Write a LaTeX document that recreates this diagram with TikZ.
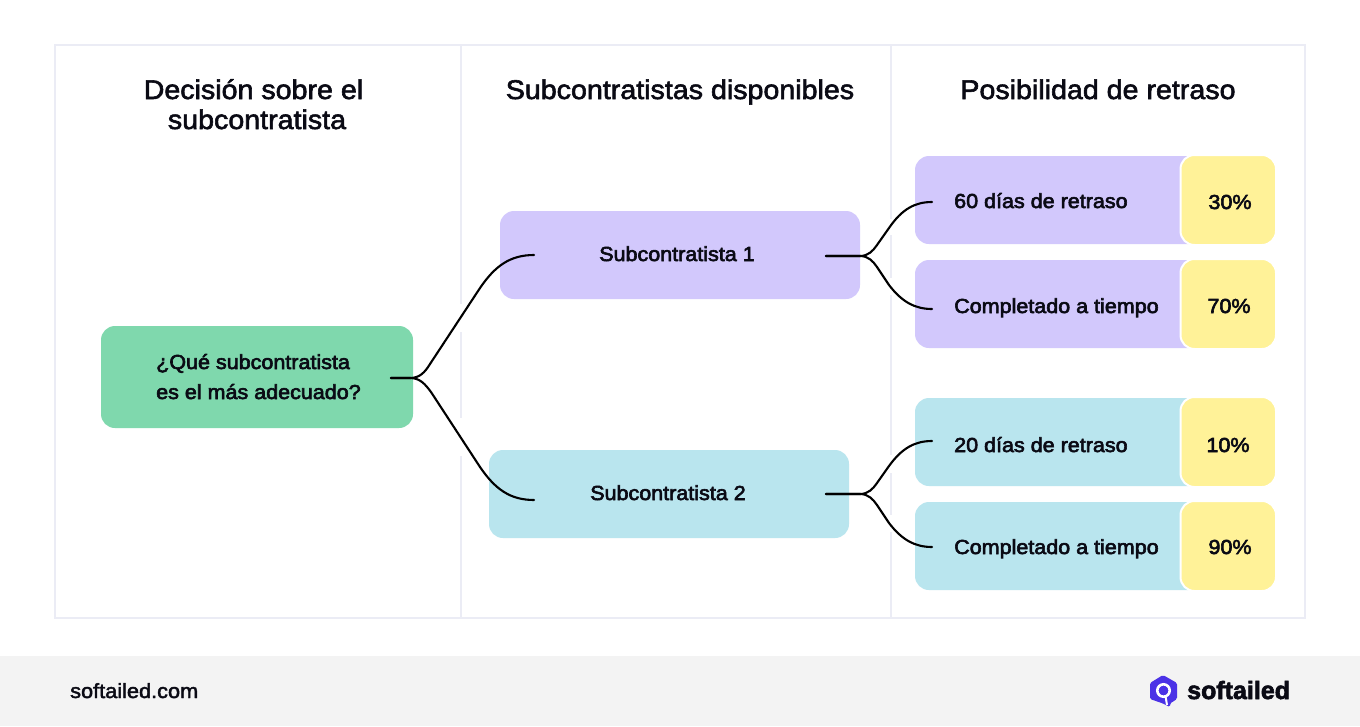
\documentclass[tikz,border=0pt]{standalone}
\usepackage{fontspec}
\setmainfont{Liberation Sans}[FakeBold=3,FakeStretch=1.06]
\newfontfamily\headfont{Liberation Sans}[FakeBold=2.2,FakeStretch=1.06]
\newfontfamily\footfont{Liberation Sans}[FakeBold=2.2,FakeStretch=1.06]
\newfontfamily\logofont{Liberation Sans Bold}[FakeBold=2.5]
\definecolor{gridline}{HTML}{EBECF5}
\definecolor{footbg}{HTML}{F3F3F3}
\definecolor{greenbox}{HTML}{7FD8AD}
\definecolor{purplebox}{HTML}{D2C8FC}
\definecolor{bluebox}{HTML}{B9E5EE}
\definecolor{yellowbox}{HTML}{FFF298}
\definecolor{logoblue}{HTML}{4B32E6}
\definecolor{ink}{HTML}{0A0A14}
\tikzset{
  box/.style={rounded corners=14pt},
  pct/.style={box,fill=yellowbox,draw=white,line width=2pt},
  head/.style={font=\headfont\fontsize{27}{30}\selectfont,align=center,text=ink,inner sep=0pt,anchor=base},
  label/.style={font=\fontsize{20.3}{24}\selectfont,text=ink,inner sep=0pt},
  link/.style={draw=black,line width=2.1pt,line cap=round},
  rule/.style={draw=gridline,line width=2pt},
}
\begin{document}
\begin{tikzpicture}[x=1pt,y=-1pt]
\useasboundingbox (0,0) rectangle (1360,726);
\fill[white] (0,0) rectangle (1360,726);
\fill[footbg] (0,656) rectangle (1360,726);
\draw[rule] (55,45) rectangle (1305,618);
\draw[rule] (461,45) -- (461,304) (461,332) -- (461,418) (461,456) -- (461,618);
\draw[rule] (891,45) -- (891,219) (891,235) -- (891,278) (891,295) -- (891,455) (891,473) -- (891,515) (891,532) -- (891,618);
\node[head] (h1a) at (253.5,99) {Decisión sobre el};
\node[head] (h1b) at (257,129) {subcontratista};
\node[head] (h2) at (680,99) {Subcontratistas disponibles};
\node[head] (h3) at (1098,99) {Posibilidad de retraso};
% boxes
\fill[greenbox,box] (101,326) rectangle (413,428);
\fill[purplebox,box] (500,211) rectangle (860,299);
\fill[bluebox,box] (489,450) rectangle (849,538);
\fill[purplebox,box] (915,156) rectangle (1275,244);
\fill[purplebox,box] (915,260) rectangle (1275,348);
\fill[bluebox,box] (915,398) rectangle (1275,486);
\fill[bluebox,box] (915,502) rectangle (1275,590);
\draw[pct] (1180.5,155) rectangle (1276,245);
\draw[pct] (1180.5,259) rectangle (1276,349);
\draw[pct] (1180.5,397) rectangle (1276,487);
\draw[pct] (1180.5,501) rectangle (1276,591);
% labels
\node[label,anchor=base west] (q1) at (156,369) {¿Qué subcontratista};
\node[label,anchor=base west] (q2) at (156,399) {es el más adecuado?};
\node[label,anchor=base] (s1) at (677,261) {Subcontratista 1};
\node[label,anchor=base] (s2) at (668,500) {Subcontratista 2};
\node[label,anchor=base west] (a1) at (954,208) {60 días de retraso};
\node[label,anchor=base west] (a2) at (954,313) {Completado a tiempo};
\node[label,anchor=base west] (b1) at (954,452) {20 días de retraso};
\node[label,anchor=base west] (b2) at (954,554) {Completado a tiempo};
\node[label,anchor=base] (p1) at (1230,209) {30\%};
\node[label,anchor=base] (p2) at (1229,313) {70\%};
\node[label,anchor=base] (p3) at (1228,452) {10\%};
\node[label,anchor=base] (p4) at (1230,554) {90\%};
% connector ends
\coordinate (qout) at (391,378);
\coordinate (s1in) at (534,255);
\coordinate (s2in) at (534,500);
\coordinate (s1out) at (826,256);
\coordinate (s2out) at (826,494);
\coordinate (a1in) at (932,202);
\coordinate (a2in) at (932,309);
\coordinate (b1in) at (932,441);
\coordinate (b2in) at (932,547);
% connectors
\draw[link] (qout) -- (410,378) .. controls (420,378) and (425,372) .. (430,364) -- (480,288) .. controls (495,266) and (510,255) .. (s1in);
\draw[link] (qout) -- (410,378) .. controls (420,378) and (425,384) .. (431,392) -- (480,467) .. controls (495,489) and (510,500) .. (s2in);
\draw[link] (s1out) -- (860,256) .. controls (868,256) and (873,251) .. (877,245) -- (889,228) .. controls (902,209) and (915,202) .. (a1in);
\draw[link] (s1out) -- (860,256) .. controls (868,256) and (873,261) .. (877,267) -- (889,285) .. controls (902,302) and (915,309) .. (a2in);
\draw[link] (s2out) -- (860,494) .. controls (868,494) and (873,489) .. (877,483) -- (889,466) .. controls (902,448) and (915,441) .. (b1in);
\draw[link] (s2out) -- (860,494) .. controls (868,494) and (873,499) .. (877,505) -- (889,523) .. controls (902,540) and (915,547) .. (b2in);
% footer
\node[font=\footfont\fontsize{20.5}{24}\selectfont,text=ink,inner sep=0pt,anchor=base west] (site) at (70,698) {softailed.com};
\fill[logoblue,rounded corners=1.5pt] (1163,675) -- (1177,683) -- (1177,699) -- (1170,703.5) -- (1170,707) -- (1163,703.5) -- (1150,699) -- (1150,683) -- cycle;
\draw[white,line width=2.6pt] (1163.5,690.5) circle (6.2pt);
\draw[white,line width=2pt] (1165.5,696) -- (1167,705);
\node[font=\logofont\fontsize{25}{30}\selectfont,text=ink,inner sep=0pt,anchor=base west] (logo) at (1187,699) {softailed};
\end{tikzpicture}
\end{document}
